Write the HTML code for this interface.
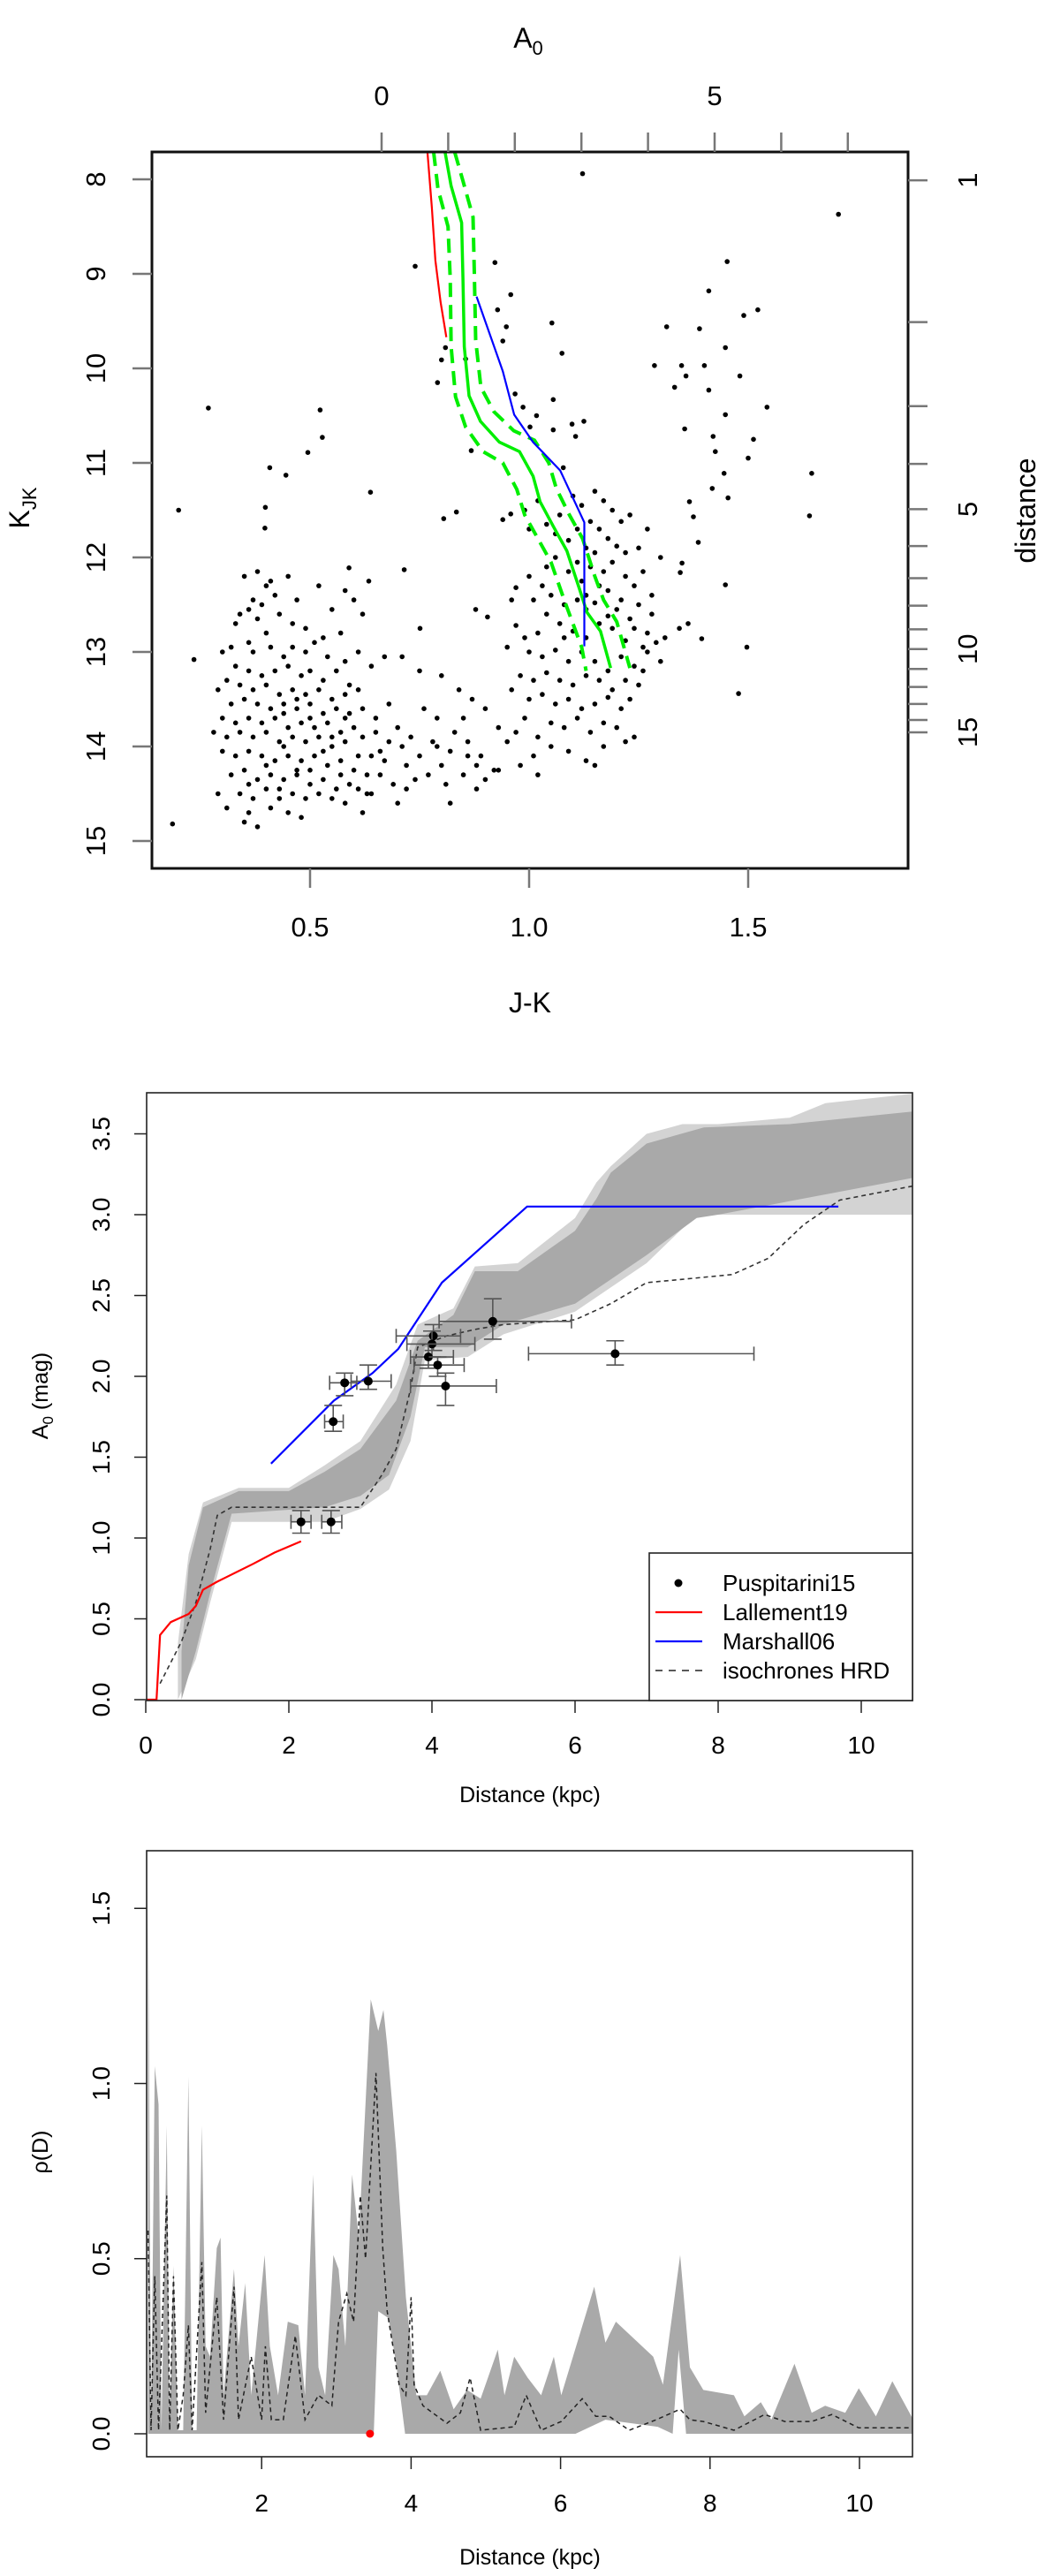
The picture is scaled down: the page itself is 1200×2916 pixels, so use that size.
<!DOCTYPE html>
<html><head><meta charset="utf-8"><style>
html,body{margin:0;padding:0;background:#fff;}
svg{display:block;font-family:"Liberation Sans",sans-serif;}
</style></head><body>
<svg id="fig" width="1200" height="2916" viewBox="0 0 1200 2916" xmlns="http://www.w3.org/2000/svg">
<rect width="1200" height="2916" fill="#fff"/>
<g id="p1"></g>
<g id="p2"></g>
<g id="p3"></g>
</svg>
<script>
// ---------- Panel 1 data ----------
const p1XTicks = [0.5, 1.0, 1.5];
const p1XTickLabels = ["0.5", "1.0", "1.5"];
const p1YTicks = [8, 9, 10, 11, 12, 13, 14, 15];
const p1A0Ticks = [0, 1, 2, 3, 4, 5, 6, 7];
const p1A0Labels = {0: "0", 5: "5"};
const p1DistTicks = [1, 2, 3, 4, 5, 6, 7, 8, 9, 10, 11, 12, 13, 14, 15];
const p1DistTickK = [8.01, 9.51, 10.4, 11.01, 11.49, 11.88, 12.22, 12.51, 12.76, 12.97, 13.18, 13.37, 13.55, 13.72, 13.85];
const redJK = [0.768, 0.778, 0.786, 0.798, 0.811];
const redK = [7.71, 8.3, 8.86, 9.3, 9.67];
const blueJK = [0.880, 0.94, 0.966, 1.009, 1.071, 1.126, 1.126];
const blueK = [9.24, 10.03, 10.49, 10.78, 11.08, 11.63, 12.94];
const greenJK = [0.808, 0.822, 0.846, 0.849, 0.852, 0.863, 0.889, 0.932, 0.978, 1.009, 1.025, 1.055, 1.086, 1.114, 1.132, 1.163, 1.186];
const greenK = [7.71, 8.07, 8.46, 9.05, 9.77, 10.29, 10.56, 10.78, 10.88, 11.14, 11.41, 11.67, 11.93, 12.32, 12.58, 12.78, 13.17];
const greenLoJK = [0.782, 0.792, 0.815, 0.82, 0.822, 0.832, 0.855, 0.895, 0.94, 0.972, 0.99, 1.02, 1.05, 1.08, 1.1, 1.12, 1.13];
const greenLoK = [7.71, 8.1, 8.5, 9.05, 9.77, 10.3, 10.62, 10.88, 11.0, 11.28, 11.55, 11.8, 12.05, 12.45, 12.7, 12.95, 13.2];
const greenHiJK = [0.83, 0.848, 0.872, 0.875, 0.878, 0.89, 0.92, 0.965, 1.012, 1.045, 1.062, 1.092, 1.122, 1.15, 1.17, 1.2, 1.23];
const greenHiK = [7.71, 8.0, 8.4, 9.0, 9.7, 10.2, 10.46, 10.66, 10.76, 11.0, 11.27, 11.55, 11.8, 12.2, 12.45, 12.68, 13.17];
const starPairs = [
[1.122,7.94],[1.706,8.37],[0.74,8.92],[0.922,8.88],[0.958,9.22],[0.928,9.38],[0.948,9.56],[0.94,9.71],[1.052,9.52],[1.075,9.84],[0.809,9.78],[0.80,9.91],[0.791,10.15],[0.855,9.90],[0.968,10.27],[0.986,10.41],[1.017,10.5],[1.055,10.33],[1.002,10.62],[1.055,10.65],[1.098,10.59],[1.125,10.56],[1.106,10.72],[0.868,10.87],[0.268,10.42],[0.523,10.44],[0.528,10.73],[0.495,10.89],[0.408,11.05],[0.445,11.13],[0.2,11.5],[0.638,11.31],[0.398,11.47],[0.397,11.69],[0.805,11.59],[0.834,11.52],[0.94,11.6],[0.958,11.54],[1.078,11.05],[1.286,9.97],[1.314,9.56],[1.348,9.97],[1.332,10.2],[1.358,10.08],[1.355,10.64],[1.389,9.58],[1.40,9.97],[1.41,10.23],[1.41,9.18],[1.448,9.78],[1.452,8.87],[1.481,10.08],[1.49,9.44],[1.522,9.38],[1.543,10.41],[1.448,10.49],[1.42,10.72],[1.425,10.88],[1.512,10.75],[1.5,10.95],[1.445,11.11],[1.418,11.27],[1.454,11.37],[1.366,11.41],[1.375,11.57],[1.386,11.84],[1.349,12.06],[1.345,12.16],[1.448,12.29],[1.645,11.11],[1.64,11.56],[1.363,12.70],[1.394,12.86],[1.343,12.75],[1.497,12.95],[1.478,13.44],[0.235,13.08],[0.186,14.82],[0.715,12.13],[0.634,12.25],[0.589,12.11],[0.751,12.75],[0.878,12.55],[0.905,12.63],
[1.10,11.35],[1.12,11.45],[1.15,11.30],[1.17,11.40],[1.19,11.50],[1.14,11.62],[1.16,11.70],[1.21,11.62],[1.23,11.55],[1.18,11.80],[1.20,11.88],[1.22,11.95],[1.25,11.90],[1.27,11.70],[1.13,11.90],[1.09,11.82],[1.06,11.75],[1.04,11.65],[0.99,11.50],[1.02,11.40],[1.07,11.55],[1.00,11.70],[1.11,12.05],[1.14,12.10],[1.17,12.15],[1.19,12.05],[1.22,12.20],[1.24,12.30],[1.26,12.15],[1.28,12.40],[1.30,12.00],[1.16,12.30],[1.12,12.25],[1.09,12.15],[1.06,12.00],[1.03,12.30],[1.00,12.20],[0.97,12.32],[0.96,12.45],[1.01,12.45],[1.05,12.40],[1.08,12.50],[1.11,12.45],[1.13,12.55],[1.15,12.48],[1.18,12.62],[1.20,12.55],[1.23,12.65],[1.25,12.50],[1.27,12.80],[1.29,12.90],[1.26,12.95],[1.22,12.88],[1.19,12.75],[1.16,12.70],[1.13,12.85],[1.10,12.78],[1.07,12.70],[1.04,12.60],[1.02,12.80],[0.99,12.85],[0.97,12.72],[0.95,12.95],[1.00,13.00],[1.03,13.05],[1.06,12.98],[1.09,13.10],[1.12,13.00],[1.15,13.10],[1.18,13.20],[1.21,13.05],[1.24,13.15],[1.27,13.00],[1.30,13.10],[1.25,13.35],[1.22,13.30],[1.19,13.40],[1.16,13.30],[1.13,13.25],[1.10,13.35],[1.07,13.30],[1.04,13.22],[1.01,13.30],[0.98,13.25],[0.96,13.40],[1.00,13.50],[1.03,13.45],[1.06,13.55],[1.09,13.50],[1.12,13.60],[1.15,13.55],[1.18,13.48],[1.21,13.60],[1.23,13.50],[1.20,13.80],[1.17,13.75],[1.14,13.85],[1.11,13.70],[1.08,13.80],[1.05,13.75],[1.02,13.90],[0.99,13.70],[0.97,13.85],[1.01,14.10],[1.05,14.00],[1.09,14.05],[1.13,14.15],[1.17,14.00],[1.22,13.95],[1.24,13.90],[0.98,14.20],[1.02,14.30],[1.15,14.20],[0.95,13.95],[0.93,14.25],[0.90,14.35],[1.08,12.85],[1.13,12.40],[1.18,12.35],[1.04,12.10],[1.28,12.60],[1.24,12.75],[1.31,12.85],[1.26,13.20],[1.21,12.45],[1.15,11.95],[1.11,11.70],
[0.62,13.60],[0.65,13.70],[0.68,13.55],[0.70,13.80],[0.73,13.90],[0.75,14.10],[0.78,13.95],[0.80,14.20],[0.82,14.05],[0.85,14.30],[0.88,14.20],[0.90,13.60],[0.87,13.50],[0.85,13.70],[0.83,13.85],[0.79,13.70],[0.77,14.30],[0.72,14.20],[0.69,14.40],[0.66,14.30],[0.64,14.10],[0.61,14.45],[0.63,14.50],[0.67,14.15],[0.71,14.00],[0.74,14.35],[0.81,14.40],[0.86,13.95],[0.89,14.10],[0.92,14.25],[0.93,13.80],[0.84,13.40],[0.80,13.25],[0.75,13.20],[0.71,13.05],[0.67,13.05],[0.76,13.60],[0.88,14.45],[0.82,14.60],[0.70,14.60],[0.72,14.45],[0.86,14.10],[0.79,14.00],[0.68,13.95],
[0.35,12.20],[0.38,12.15],[0.40,12.30],[0.42,12.40],[0.37,12.45],[0.36,12.55],[0.39,12.50],[0.41,12.25],[0.45,12.20],[0.47,12.45],[0.52,12.30],[0.58,12.35],[0.60,12.45],[0.55,12.55],[0.38,12.65],[0.43,12.60],[0.46,12.70],[0.34,12.60],[0.40,12.80],[0.49,12.75],[0.53,12.85],[0.57,12.80],[0.62,12.60],[0.36,12.90],[0.32,12.95],[0.30,13.00],[0.33,12.70],
[0.37,13.00],[0.41,12.95],[0.44,13.05],[0.46,12.95],[0.49,13.00],[0.51,12.90],[0.54,13.05],[0.58,13.10],[0.61,13.00],[0.64,13.15],[0.33,13.15],[0.36,13.20],[0.39,13.25],[0.42,13.20],[0.45,13.15],[0.48,13.25],[0.50,13.20],[0.53,13.30],[0.56,13.20],[0.59,13.35],[0.31,13.30],[0.34,13.35],[0.37,13.40],[0.40,13.35],[0.43,13.45],[0.46,13.40],[0.49,13.45],[0.52,13.40],[0.55,13.50],[0.58,13.45],[0.61,13.40],[0.29,13.40],
[0.32,13.55],[0.35,13.50],[0.38,13.55],[0.41,13.60],[0.44,13.55],[0.47,13.60],[0.50,13.55],[0.53,13.65],[0.56,13.60],[0.59,13.65],[0.30,13.70],[0.33,13.75],[0.36,13.70],[0.39,13.75],[0.42,13.70],[0.45,13.80],[0.48,13.75],[0.51,13.80],[0.54,13.75],[0.57,13.85],[0.60,13.80],[0.28,13.85],[0.31,13.90],[0.34,13.85],[0.37,13.90],[0.40,13.85],[0.43,13.95],[0.46,13.90],[0.49,13.95],[0.52,13.90],[0.55,14.00],[0.58,13.95],[0.62,13.90],[0.65,13.85],[0.66,14.05],[0.44,13.65],[0.50,13.70],[0.55,13.90],[0.58,13.70],[0.47,13.50],
[0.30,14.05],[0.33,14.10],[0.36,14.05],[0.39,14.10],[0.42,14.15],[0.45,14.10],[0.48,14.15],[0.51,14.10],[0.54,14.20],[0.57,14.15],[0.60,14.25],[0.63,14.30],[0.32,14.30],[0.35,14.25],[0.38,14.35],[0.41,14.30],[0.44,14.35],[0.47,14.30],[0.50,14.40],[0.53,14.35],[0.56,14.45],[0.59,14.40],[0.29,14.50],[0.34,14.50],[0.37,14.55],[0.40,14.45],[0.43,14.55],[0.46,14.50],[0.49,14.55],[0.52,14.50],[0.55,14.55],[0.58,14.60],[0.31,14.65],[0.36,14.70],[0.38,14.85],[0.41,14.65],[0.45,14.70],[0.48,14.75],[0.35,14.80],[0.62,14.70],[0.47,14.25],[0.44,14.00],[0.50,14.25],[0.53,14.05],[0.40,14.20],[0.36,14.40],[0.57,14.30],[0.61,14.10],[0.64,14.50],[0.43,14.45]
];

// ---------- Panel 2 data ----------
const p2XTicks = [0, 2, 4, 6, 8, 10];
const p2YTicks = [0, 0.5, 1, 1.5, 2, 2.5, 3, 3.5];
const p2YTickLabels = ["0.0", "0.5", "1.0", "1.5", "2.0", "2.5", "3.0", "3.5"];
const lightUpD = [0.45, 0.6, 0.8, 1.3, 2.0, 2.5, 3.0, 3.5, 3.8, 4.3, 4.6, 5.2, 6.0, 6.3, 6.5, 7.0, 7.5, 8.0, 9.0, 9.5, 10.75];
const lightUpA = [0.35, 0.9, 1.22, 1.31, 1.31, 1.45, 1.6, 1.95, 2.32, 2.42, 2.68, 2.7, 2.98, 3.2, 3.3, 3.5, 3.56, 3.56, 3.6, 3.69, 3.75];
const lightLoD = [0.45, 0.7, 0.9, 1.2, 2.5, 3.0, 3.4, 3.7, 3.9, 4.5, 5.0, 6.0, 7.0, 7.7, 10.75];
const lightLoA = [0.0, 0.25, 0.6, 1.1, 1.1, 1.18, 1.3, 1.6, 2.1, 2.12, 2.26, 2.4, 2.7, 3.0, 3.0];
const darkUpD = [0.5, 0.6, 0.8, 1.3, 2.0, 2.5, 3.0, 3.5, 3.8, 4.3, 4.6, 5.2, 6.0, 6.3, 6.5, 7.0, 7.8, 9.0, 10.75];
const darkUpA = [0.3, 0.83, 1.19, 1.29, 1.29, 1.41, 1.55, 1.85, 2.22, 2.38, 2.65, 2.65, 2.9, 3.1, 3.26, 3.44, 3.54, 3.56, 3.64];
const darkLoD = [0.5, 0.7, 0.9, 1.2, 2.5, 3.0, 3.4, 3.7, 3.9, 4.5, 5.0, 6.0, 7.0, 7.7, 8.0, 10.75];
const darkLoA = [0.0, 0.3, 0.66, 1.15, 1.19, 1.26, 1.39, 1.75, 2.18, 2.18, 2.32, 2.45, 2.75, 2.98, 3.0, 3.23];
const isoD = [0.2, 0.5, 0.7, 0.9, 1.0, 1.2, 3.0, 3.3, 3.5, 3.7, 3.8, 4.2, 4.6, 5.0, 6.0, 6.5, 7.0, 7.5, 8.2, 8.7, 9.2, 9.7, 10.75];
const isoA = [0.1, 0.36, 0.6, 0.93, 1.14, 1.19, 1.19, 1.39, 1.55, 1.92, 2.18, 2.25, 2.29, 2.32, 2.35, 2.45, 2.58, 2.6, 2.63, 2.73, 2.94, 3.09, 3.18];
const lalD = [0.0, 0.15, 0.2, 0.35, 0.6, 0.7, 0.8, 1.0, 1.5, 1.8, 2.17];
const lalA = [0.0, 0.0, 0.4, 0.48, 0.53, 0.58, 0.68, 0.73, 0.84, 0.91, 0.98];
const marD = [1.75, 2.63, 3.17, 3.53, 4.14, 5.33, 9.68];
const marA = [1.46, 1.85, 2.02, 2.17, 2.58, 3.05, 3.05];
const pusD = [2.17, 2.59, 2.62, 2.78, 3.11, 4.02, 4.0, 3.95, 4.08, 4.19, 4.85, 6.56];
const pusA = [1.10, 1.10, 1.72, 1.96, 1.97, 2.25, 2.2, 2.12, 2.07, 1.94, 2.34, 2.14];
const pusDlo = [2.03, 2.46, 2.5, 2.57, 2.87, 3.5, 3.65, 3.7, 3.75, 3.7, 4.1, 5.35];
const pusDhi = [2.31, 2.74, 2.76, 2.95, 3.43, 4.4, 4.6, 4.3, 4.45, 4.9, 5.95, 8.5];
const pusAlo = [1.03, 1.03, 1.66, 1.88, 1.92, 2.16, 2.12, 2.05, 2.0, 1.82, 2.23, 2.07];
const pusAhi = [1.17, 1.17, 1.82, 2.02, 2.07, 2.32, 2.28, 2.2, 2.12, 2.02, 2.48, 2.22];
const legendLabels = ["Puspitarini15", "Lallement19", "Marshall06", "isochrones HRD"];

// ---------- Panel 3 data ----------
const p3XTicks = [2, 4, 6, 8, 10];
const p3YTicks = [0, 0.5, 1, 1.5];
const p3YTickLabels = ["0.0", "0.5", "1.0", "1.5"];
const bandD = [0.48,0.52,0.57,0.62,0.66,0.73,0.77,0.82,0.88,0.95,1.02,1.07,1.13,1.20,1.25,1.31,1.40,1.45,1.49,1.63,1.69,1.78,1.86,2.04,2.11,2.22,2.35,2.49,2.58,2.69,2.76,2.85,2.96,3.03,3.12,3.21,3.30,3.46,3.56,3.63,3.68,3.80,3.93,4.07,4.21,4.39,4.57,4.75,4.93,5.16,5.25,5.38,5.56,5.74,5.91,6.01,6.45,6.60,6.74,7.24,7.37,7.60,7.73,7.91,8.32,8.46,8.68,8.82,9.13,9.36,9.54,9.81,9.99,10.22,10.44,10.72];
const bandHi = [1.56,0.01,1.05,0.94,0.01,0.88,0.01,0.48,0.01,0.01,1.02,0.01,0.01,0.88,0.25,0.22,0.53,0.56,0.11,0.47,0.25,0.43,0.11,0.51,0.25,0.11,0.32,0.31,0.11,0.74,0.19,0.11,0.51,0.47,0.25,0.74,0.56,1.24,1.15,1.21,1.11,0.81,0.39,0.11,0.11,0.18,0.07,0.125,0.1,0.24,0.11,0.22,0.16,0.11,0.22,0.11,0.42,0.26,0.32,0.22,0.14,0.51,0.19,0.125,0.11,0.05,0.09,0.04,0.2,0.06,0.08,0.06,0.13,0.05,0.15,0.04];
const bandLoD = [0.48, 3.50, 3.56, 3.70, 3.80, 3.92, 6.2, 6.6, 7.3, 7.5, 7.58, 7.68, 10.72];
const bandLo = [0.0, 0.0, 0.35, 0.33, 0.2, 0.0, 0.0, 0.04, 0.02, 0.0, 0.24, 0.0, 0.0];
const medD = [0.48,0.52,0.57,0.62,0.73,0.77,0.82,0.88,0.95,1.02,1.07,1.20,1.25,1.40,1.49,1.63,1.69,1.86,2.0,2.05,2.13,2.29,2.45,2.58,2.76,2.94,3.03,3.14,3.23,3.32,3.39,3.53,3.62,3.68,3.84,3.93,4.0,4.04,4.16,4.48,4.66,4.79,4.93,5.38,5.54,5.74,6.01,6.29,6.47,6.65,6.92,7.28,7.60,7.73,7.91,8.32,8.73,9.0,9.36,9.63,9.99,10.72];
const medV = [0.58,0.01,0.45,0.01,0.68,0.01,0.45,0.01,0.11,0.31,0.01,0.49,0.06,0.39,0.04,0.42,0.04,0.22,0.04,0.25,0.04,0.04,0.28,0.04,0.11,0.08,0.32,0.40,0.32,0.68,0.50,1.03,0.53,0.35,0.14,0.11,0.39,0.14,0.08,0.03,0.06,0.16,0.01,0.02,0.11,0.01,0.035,0.10,0.05,0.05,0.01,0.04,0.07,0.04,0.035,0.01,0.055,0.035,0.035,0.055,0.017,0.017];
const redDotD = [3.45];
const redDotV = [0];

// ---------- helpers ----------
const NS = "http://www.w3.org/2000/svg";
function mk(parent, tag, attrs, text) {
  const el = document.createElementNS(NS, tag);
  for (const k in attrs) el.setAttribute(k, attrs[k]);
  if (text !== undefined) el.textContent = text;
  parent.appendChild(el);
  return el;
}
function pathFrom(xs, ys, fx, fy) {
  return xs.map((v, i) => (i ? "L" : "M") + fx(v).toFixed(1) + "," + fy(ys[i]).toFixed(1)).join("");
}
function bandPath(xu, yu, xl, yl, fx, fy) {
  let d = pathFrom(xu, yu, fx, fy);
  for (let i = xl.length - 1; i >= 0; i--) d += "L" + fx(xl[i]).toFixed(1) + "," + fy(yl[i]).toFixed(1);
  return d + "Z";
}

// ---------- Panel 1 ----------
(function () {
  const g = document.getElementById("p1");
  const L = 172, R = 1028, T = 172, B = 983;
  const x = v => 351 + (v - 0.5) * 496;
  const y = v => 203 + (v - 8) * 107;
  const xa = v => 432 + v * 75.4;
  const clip = mk(g, "clipPath", {id: "c1"});
  mk(clip, "rect", {x: L, y: T, width: R - L, height: B - T});
  const plot = mk(g, "g", {"clip-path": "url(#c1)"});
  
  
  starPairs.forEach(p => {
    const c = mk(plot, "circle", {cx: x(p[0]).toFixed(1), cy: y(p[1]).toFixed(1), r: 2.8, fill: "#000"});
    
    
  });
  const red = mk(plot, "path", {d: pathFrom(redJK, redK, x, y), fill: "none", stroke: "#ff0000", "stroke-width": 2.2});
  
  
  const gl = mk(plot, "path", {d: pathFrom(greenLoJK, greenLoK, x, y), fill: "none", stroke: "#00ee00", "stroke-width": 4, "stroke-dasharray": "16,9"});
  
  
  const gh = mk(plot, "path", {d: pathFrom(greenHiJK, greenHiK, x, y), fill: "none", stroke: "#00ee00", "stroke-width": 4, "stroke-dasharray": "16,9"});
  
  
  const gs = mk(plot, "path", {d: pathFrom(greenJK, greenK, x, y), fill: "none", stroke: "#00ee00", "stroke-width": 3.5});
  
  
  const bl = mk(plot, "path", {d: pathFrom(blueJK, blueK, x, y), fill: "none", stroke: "#0000ff", "stroke-width": 2.2});
  
  
  const box = mk(g, "rect", {x: L, y: T, width: R - L, height: B - T, fill: "none", stroke: "#111", "stroke-width": 3});
  
  
  p1XTicks.forEach((v, i) => {
    mk(g, "line", {x1: x(v), y1: B, x2: x(v), y2: B + 22, stroke: "#777", "stroke-width": 2.5});
    const t = mk(g, "text", {x: x(v), y: 1060, "font-size": 31, "text-anchor": "middle"}, p1XTickLabels[i]);
    
    
  });
  p1YTicks.forEach(v => {
    mk(g, "line", {x1: L - 22, y1: y(v), x2: L, y2: y(v), stroke: "#777", "stroke-width": 2.5});
    const t = mk(g, "text", {x: 0, y: 0, "font-size": 31, "text-anchor": "middle", transform: `translate(119,${y(v)}) rotate(-90)`}, String(v));
    
    
  });
  p1A0Ticks.forEach(v => {
    mk(g, "line", {x1: xa(v), y1: 150, x2: xa(v), y2: T, stroke: "#777", "stroke-width": 2.5});
    if (p1A0Labels[v] !== undefined) {
      const t = mk(g, "text", {x: xa(v), y: 119, "font-size": 31, "text-anchor": "middle"}, p1A0Labels[v]);
      
      
    }
  });
  p1DistTicks.forEach((v, i) => {
    const yy = y(p1DistTickK[i]);
    mk(g, "line", {x1: R, y1: yy, x2: R + 22, y2: yy, stroke: "#777", "stroke-width": 2.5});
    if (v === 1 || v === 5 || v === 10 || v === 15) {
      const t = mk(g, "text", {x: 0, y: 0, "font-size": 31, "text-anchor": "middle", transform: `translate(1106,${yy}) rotate(-90)`}, String(v));
      
      
    }
  });
  const at = mk(g, "text", {x: 598, y: 54, "font-size": 32, "text-anchor": "middle"});
  
  
  at.innerHTML = 'A<tspan font-size="22" dy="8">0</tspan>';
  const kt = mk(g, "text", {x: 0, y: 0, "font-size": 32, "text-anchor": "middle", transform: "translate(33,575) rotate(-90)"});
  
  
  kt.innerHTML = 'K<tspan font-size="22" dy="8">JK</tspan>';
  const dt = mk(g, "text", {x: 0, y: 0, "font-size": 32, "text-anchor": "middle", transform: "translate(1172,578) rotate(-90)"}, "distance");
  
  
  const jt = mk(g, "text", {x: 600, y: 1146, "font-size": 32, "text-anchor": "middle"}, "J-K");
  
  
})();

// ---------- Panel 2 ----------
(function () {
  const g = document.getElementById("p2");
  const L = 166, R = 1033, T = 1237, B = 1925;
  const x = d => 165 + d * 81;
  const y = a => 1924 - a * 183;
  const clip = mk(g, "clipPath", {id: "c2"});
  mk(clip, "rect", {x: L, y: T, width: R - L, height: B - T});
  const plot = mk(g, "g", {"clip-path": "url(#c2)"});
  const lb = mk(plot, "path", {d: bandPath(lightUpD, lightUpA, lightLoD, lightLoA, x, y), fill: "#d3d3d3"});
  
  
  const db = mk(plot, "path", {d: bandPath(darkUpD, darkUpA, darkLoD, darkLoA, x, y), fill: "#a9a9a9"});
  
  
  const iso = mk(plot, "path", {d: pathFrom(isoD, isoA, x, y), fill: "none", stroke: "#333", "stroke-width": 1.6, "stroke-dasharray": "5,4"});
  
  
  const lal = mk(plot, "path", {d: pathFrom(lalD, lalA, x, y), fill: "none", stroke: "#ff0000", "stroke-width": 2.2});
  
  
  const mar = mk(plot, "path", {d: pathFrom(marD, marA, x, y), fill: "none", stroke: "#0000ff", "stroke-width": 2.2});
  
  
  pusD.forEach((d, i) => {
    const gg = mk(plot, "g", {stroke: "#555", "stroke-width": 1.6});
    
    
    mk(gg, "line", {x1: x(pusDlo[i]), y1: y(pusA[i]), x2: x(pusDhi[i]), y2: y(pusA[i])});
    mk(gg, "line", {x1: x(pusDlo[i]), y1: y(pusA[i]) - 8, x2: x(pusDlo[i]), y2: y(pusA[i]) + 8});
    mk(gg, "line", {x1: x(pusDhi[i]), y1: y(pusA[i]) - 8, x2: x(pusDhi[i]), y2: y(pusA[i]) + 8});
    mk(gg, "line", {x1: x(d), y1: y(pusAlo[i]), x2: x(d), y2: y(pusAhi[i])});
    mk(gg, "line", {x1: x(d) - 10, y1: y(pusAlo[i]), x2: x(d) + 10, y2: y(pusAlo[i])});
    mk(gg, "line", {x1: x(d) - 10, y1: y(pusAhi[i]), x2: x(d) + 10, y2: y(pusAhi[i])});
    const c = mk(plot, "circle", {cx: x(d), cy: y(pusA[i]), r: 5, fill: "#000"});
    
    
  });
  const box = mk(g, "rect", {x: L, y: T, width: R - L, height: B - T, fill: "none", stroke: "#222", "stroke-width": 1.6});
  
  
  p2XTicks.forEach(v => {
    mk(g, "line", {x1: x(v), y1: B, x2: x(v), y2: B + 14, stroke: "#222", "stroke-width": 1.5});
    const t = mk(g, "text", {x: x(v), y: 1985, "font-size": 28, "text-anchor": "middle"}, String(v));
    
    
  });
  p2YTicks.forEach((v, i) => {
    mk(g, "line", {x1: L - 14, y1: y(v), x2: L, y2: y(v), stroke: "#222", "stroke-width": 1.5});
    const t = mk(g, "text", {x: 0, y: 0, "font-size": 28, "text-anchor": "middle", transform: `translate(124,${y(v)}) rotate(-90)`}, p2YTickLabels[i]);
    
    
  });
  const yt = mk(g, "text", {x: 0, y: 0, "font-size": 25, "text-anchor": "middle", transform: "translate(54,1580) rotate(-90)"});
  
  
  yt.innerHTML = 'A<tspan font-size="17" dy="6">0</tspan><tspan dy="-6"> (mag)</tspan>';
  const xt = mk(g, "text", {x: 600, y: 2040, "font-size": 25, "text-anchor": "middle"}, "Distance (kpc)");
  
  
  const lg = mk(g, "g", {});
  
  
  mk(lg, "rect", {x: 735, y: 1758, width: 298, height: 167, fill: "#fff", stroke: "#222", "stroke-width": 1.6});
  const ly = [1792, 1825, 1858, 1891];
  mk(lg, "circle", {cx: 768, cy: ly[0], r: 4.5, fill: "#000"});
  mk(lg, "line", {x1: 742, y1: ly[1], x2: 795, y2: ly[1], stroke: "#ff0000", "stroke-width": 2.2});
  mk(lg, "line", {x1: 742, y1: ly[2], x2: 795, y2: ly[2], stroke: "#0000ff", "stroke-width": 2.2});
  mk(lg, "line", {x1: 742, y1: ly[3], x2: 795, y2: ly[3], stroke: "#222", "stroke-width": 1.6, "stroke-dasharray": "8,7"});
  legendLabels.forEach((s, i) => {
    const t = mk(lg, "text", {x: 818, y: ly[i] + 9, "font-size": 26}, s);
    
    
  });
})();

// ---------- Panel 3 ----------
(function () {
  const g = document.getElementById("p3");
  const L = 166, R = 1033, T = 2095, B = 2781;
  const x = d => 127 + d * 84.6;
  const y = v => 2755 - v * 396.5;
  const clip = mk(g, "clipPath", {id: "c3"});
  mk(clip, "rect", {x: L, y: T, width: R - L, height: B - T});
  const plot = mk(g, "g", {"clip-path": "url(#c3)"});
  const band = mk(plot, "path", {d: bandPath(bandD, bandHi, bandLoD, bandLo, x, y), fill: "#a9a9a9"});
  
  
  const med = mk(plot, "path", {d: pathFrom(medD, medV, x, y), fill: "none", stroke: "#222", "stroke-width": 1.5, "stroke-dasharray": "5,4"});
  
  
  redDotD.forEach((d, i) => {
    const c = mk(plot, "circle", {cx: x(d), cy: y(redDotV[i]), r: 4.5, fill: "#ff0000"});
    
    
  });
  const box = mk(g, "rect", {x: L, y: T, width: R - L, height: B - T, fill: "none", stroke: "#222", "stroke-width": 1.6});
  
  
  p3XTicks.forEach(v => {
    mk(g, "line", {x1: x(v), y1: B, x2: x(v), y2: B + 14, stroke: "#222", "stroke-width": 1.5});
    const t = mk(g, "text", {x: x(v), y: 2843, "font-size": 28, "text-anchor": "middle"}, String(v));
    
    
  });
  p3YTicks.forEach((v, i) => {
    mk(g, "line", {x1: L - 14, y1: y(v), x2: L, y2: y(v), stroke: "#222", "stroke-width": 1.5});
    const t = mk(g, "text", {x: 0, y: 0, "font-size": 28, "text-anchor": "middle", transform: `translate(124,${y(v)}) rotate(-90)`}, p3YTickLabels[i]);
    
    
  });
  const yt = mk(g, "text", {x: 0, y: 0, "font-size": 25, "text-anchor": "middle", transform: "translate(54,2436) rotate(-90)"}, "\u03c1(D)");
  
  
  const xt = mk(g, "text", {x: 600, y: 2903, "font-size": 25, "text-anchor": "middle"}, "Distance (kpc)");
  
  
})();
</script>
</body></html>
